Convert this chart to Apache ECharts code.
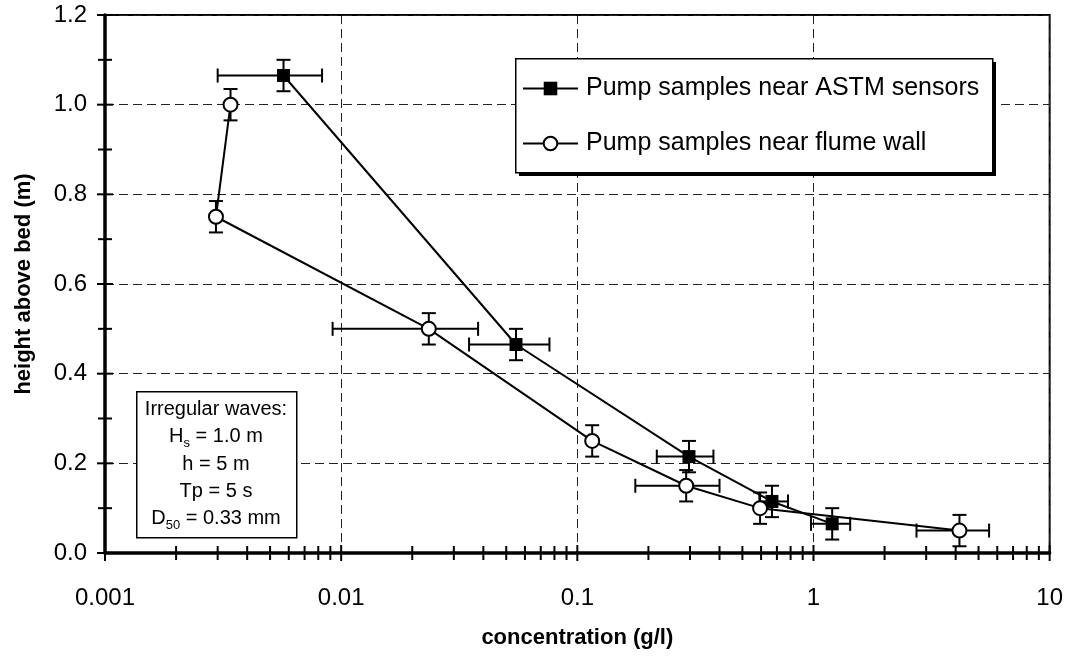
<!DOCTYPE html>
<html>
<head>
<meta charset="utf-8">
<script src="https://cdn.jsdelivr.net/npm/echarts@6/dist/echarts.min.js"></script>
<style>
  html, body { margin: 0; padding: 0; background: #fff; }
  #chart { width: 1066px; height: 659px; }
</style>
</head>
<body>
<div id="chart"></div>
<script>
// Suspended sediment concentration profiles from pump samples
const seriesNames = ['Pump samples near ASTM sensors', 'Pump samples near flume wall'];

// Pump samples near ASTM sensors
const astmConc = [0.0057, 0.055, 0.297, 0.667, 1.2];
const astmHeight = [1.065, 0.465, 0.215, 0.115, 0.065];
const astmConcLow = [0.0030, 0.0348, 0.217, 0.59, 0.976];
const astmConcHigh = [0.0083, 0.0762, 0.377, 0.78, 1.43];
const astmHeightErr = [0.035, 0.035, 0.035, 0.035, 0.035];

// Pump samples near flume wall
const wallConc = [0.0034, 0.00295, 0.0235, 0.1156, 0.289, 0.594, 4.15];
const wallHeight = [1.0, 0.75, 0.5, 0.25, 0.15, 0.1, 0.05];
const wallConcLow = [null, null, 0.0092, null, 0.176, null, 2.73];
const wallConcHigh = [null, null, 0.038, null, 0.40, null, 5.54];
const wallHeightErr = [0.035, 0.035, 0.035, 0.035, 0.035, 0.035, 0.035];

// Axis ticks and labels
const xDecades = [0.001, 0.01, 0.1, 1, 10];
const xTickLabels = ['0.001', '0.01', '0.1', '1', '10'];
const xMinorMultiples = [2, 3, 4, 5, 6, 7, 8, 9];
const yMajorTicks = [0, 0.2, 0.4, 0.6, 0.8, 1.0, 1.2];
const yTickLabels = ['0.0', '0.2', '0.4', '0.6', '0.8', '1.0', '1.2'];
const yMinorTicks = [0.1, 0.3, 0.5, 0.7, 0.9, 1.1];

const FONT = '"Liberation Sans", Arial, Helvetica, sans-serif';
const INK = '#000';

// legend frame (box with a solid drop shadow)
const legendBox = { left: 515, top: 58, width: 477, height: 114, shadow: 4 };

// tick marks that cross the axis lines
const xTickData = [];
xDecades.forEach((d, i) => {
  xTickData.push([d, 1]);
  if (i < xDecades.length - 1) xMinorMultiples.forEach(m => xTickData.push([d * m, 0]));
});
const yTickData = yMajorTicks.map(v => [xDecades[0], v, 1])
  .concat(yMinorTicks.map(v => [xDecades[0], v, 0]));

function pairs(xs, ys) { return xs.map((x, i) => [x, ys[i]]); }

function errorBarSeries(name, conc, height, lo, hi, herr) {
  return {
    type: 'custom',
    name: name,
    silent: true,
    z: 3,
    data: pairs(conc, height),
    encode: { x: 0, y: 1 },
    renderItem: function (params, api) {
      const i = params.dataIndex;
      const cap = 7;
      const st = { stroke: INK, lineWidth: 2 };
      const children = [];
      const top = api.coord([conc[i], height[i] + herr[i]]);
      const bot = api.coord([conc[i], height[i] - herr[i]]);
      children.push({ type: 'line', shape: { x1: top[0], y1: top[1], x2: bot[0], y2: bot[1] }, style: st });
      children.push({ type: 'line', shape: { x1: top[0] - cap, y1: top[1], x2: top[0] + cap, y2: top[1] }, style: st });
      children.push({ type: 'line', shape: { x1: bot[0] - cap, y1: bot[1], x2: bot[0] + cap, y2: bot[1] }, style: st });
      if (lo[i] != null && hi[i] != null) {
        const l = api.coord([lo[i], height[i]]);
        const r = api.coord([hi[i], height[i]]);
        children.push({ type: 'line', shape: { x1: l[0], y1: l[1], x2: r[0], y2: r[1] }, style: st });
        children.push({ type: 'line', shape: { x1: l[0], y1: l[1] - cap, x2: l[0], y2: l[1] + cap }, style: st });
        children.push({ type: 'line', shape: { x1: r[0], y1: r[1] - cap, x2: r[0], y2: r[1] + cap }, style: st });
      }
      return { type: 'group', children: children };
    }
  };
}

const chart = echarts.init(document.getElementById('chart'), null, { renderer: 'canvas' });

chart.setOption({
  animation: false,
  backgroundColor: '#fff',
  textStyle: { fontFamily: FONT, color: INK },
  grid: {
    left: 105, right: 15, top: 15, bottom: 106,
    show: true, borderColor: INK, borderWidth: 2, backgroundColor: 'transparent'
  },
  xAxis: {
    type: 'log',
    logBase: 10,
    min: 0.001,
    max: 10,
    name: 'concentration (g/l)',
    nameLocation: 'middle',
    nameGap: 74,
    nameTextStyle: { fontFamily: FONT, fontSize: 22, fontWeight: 'bold', color: INK },
    axisLine: { show: true, lineStyle: { color: INK, width: 3.5 } },
    axisTick: { show: false },
    axisLabel: {
      margin: 33, fontFamily: FONT, fontSize: 24, color: INK,
      formatter: v => xTickLabels[Math.round(Math.log10(v)) + 3]
    },
    splitLine: { show: true, lineStyle: { color: '#222', width: 1, type: [9, 5] } }
  },
  yAxis: {
    type: 'value',
    min: 0,
    max: 1.2,
    interval: 0.2,
    name: 'height above bed (m)',
    nameLocation: 'middle',
    nameGap: 70,
    nameTextStyle: { fontFamily: FONT, fontSize: 22, fontWeight: 'bold', color: INK },
    axisLine: { show: true, lineStyle: { color: INK, width: 3.5 } },
    axisTick: { show: false },
    axisLabel: {
      margin: 18, fontFamily: FONT, fontSize: 24, color: INK,
      formatter: v => yTickLabels[Math.round(v / 0.2)]
    },
    splitLine: { show: true, lineStyle: { color: '#222', width: 1, type: [9, 5] } }
  },
  legend: {
    data: seriesNames,
    orient: 'vertical',
    left: legendBox.left,
    top: legendBox.top,
    padding: [18, 10, 16, 7],
    itemGap: 30,
    itemWidth: 55,
    itemHeight: 17,
    z: 12,
    textStyle: { fontFamily: FONT, fontSize: 25, color: INK, padding: [0, 0, 0, 3] },
    selectedMode: false
  },
  graphic: [
    {
      type: 'rect',
      left: legendBox.left + legendBox.shadow, top: legendBox.top + legendBox.shadow, z: 10,
      shape: { width: legendBox.width, height: legendBox.height },
      style: { fill: INK }
    },
    {
      type: 'rect',
      left: legendBox.left, top: legendBox.top, z: 11,
      shape: { width: legendBox.width, height: legendBox.height },
      style: { fill: '#fff', stroke: INK, lineWidth: 1.5 }
    },
    {
      type: 'rect',
      left: 136, top: 391, z: 10,
      shape: { width: 160, height: 146 },
      style: { fill: '#fff', stroke: INK, lineWidth: 1.5 }
    },
    {
      type: 'text',
      x: 216, y: 464, z: 11,
      style: {
        text: 'Irregular waves:\nH{sub|s} = 1.0 m\nh = 5 m\nTp = 5 s\nD{sub|50} = 0.33 mm',
        fontFamily: FONT, fontSize: 20, lineHeight: 27.3, fill: INK,
        align: 'center', verticalAlign: 'middle',
        rich: {
          sub: { fontFamily: FONT, fontSize: 13, lineHeight: 16, verticalAlign: 'bottom', fill: INK }
        }
      }
    }
  ],
  series: [
    {
      type: 'custom', name: 'x ticks', silent: true, z: 1,
      data: xTickData, encode: { x: 0, y: 1 },
      renderItem: function (params, api) {
        const p = api.coord([api.value(0), 0]);
        const len = api.value(1) ? 8 : 7;
        return { type: 'line', shape: { x1: p[0], y1: p[1] - len, x2: p[0], y2: p[1] + len }, style: { stroke: INK, lineWidth: 2 } };
      }
    },
    {
      type: 'custom', name: 'y ticks', silent: true, z: 1,
      data: yTickData, encode: { x: 0, y: 1 },
      renderItem: function (params, api) {
        const p = api.coord([api.value(0), api.value(1)]);
        const len = api.value(2) ? 8 : 7;
        return { type: 'line', shape: { x1: p[0] - len, y1: p[1], x2: p[0] + len, y2: p[1] }, style: { stroke: INK, lineWidth: 2 } };
      }
    },
    errorBarSeries('astm errors', astmConc, astmHeight, astmConcLow, astmConcHigh, astmHeightErr),
    errorBarSeries('wall errors', wallConc, wallHeight, wallConcLow, wallConcHigh, wallHeightErr),
    {
      type: 'line',
      name: seriesNames[0],
      z: 5,
      data: pairs(astmConc, astmHeight),
      symbol: 'rect',
      symbolSize: 13,
      showAllSymbol: true,
      itemStyle: { color: INK },
      lineStyle: { color: INK, width: 2 }
    },
    {
      type: 'line',
      name: seriesNames[1],
      z: 5,
      data: pairs(wallConc, wallHeight),
      symbol: 'circle',
      symbolSize: 14,
      showAllSymbol: true,
      itemStyle: { color: '#fff', borderColor: INK, borderWidth: 2 },
      lineStyle: { color: INK, width: 2 }
    }
  ]
});
</script>
</body>
</html>
